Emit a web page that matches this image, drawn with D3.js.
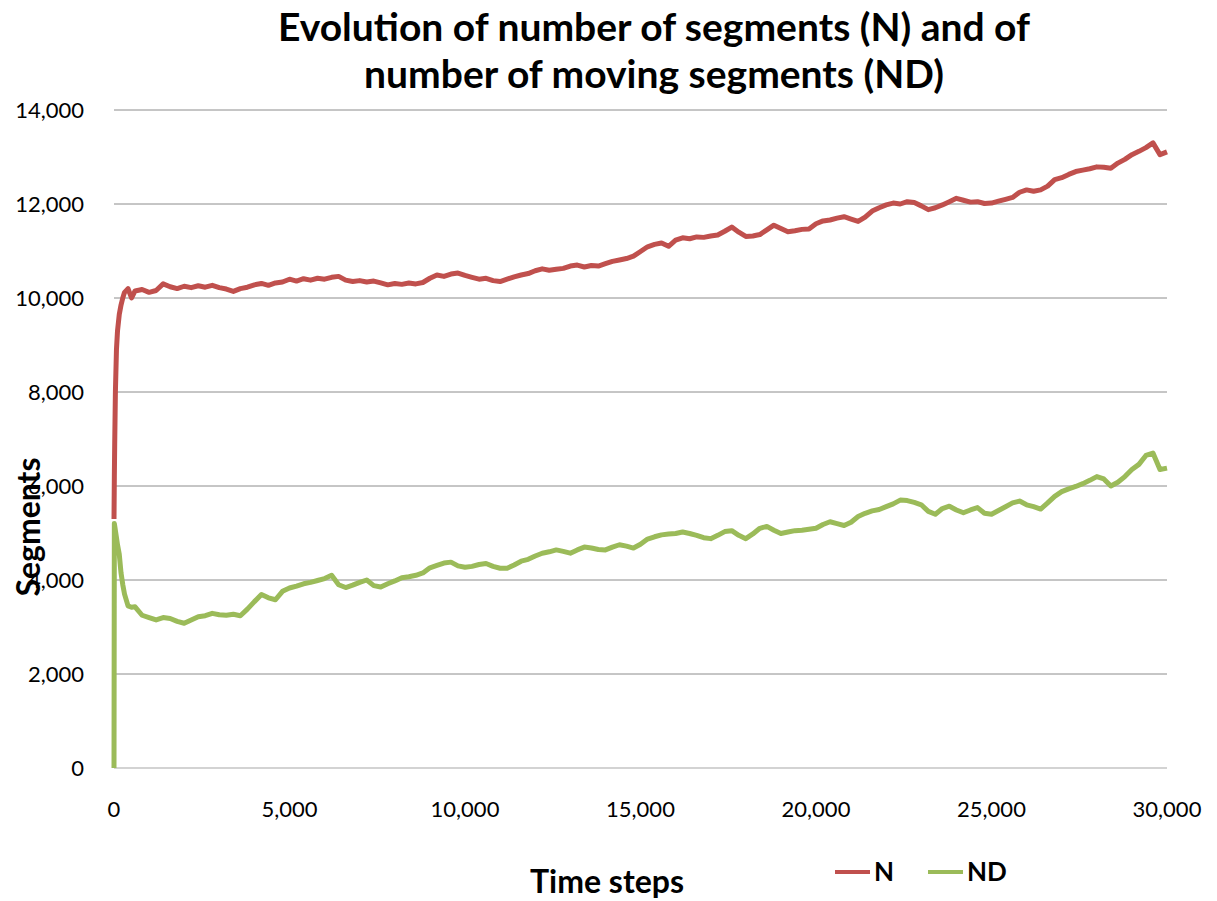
<!DOCTYPE html>
<meta charset="utf-8">
<style>
    html, body {
        margin: 0;
        background: white;
    }

    text {
        font-family: Lato, "Open Sans", sans-serif;
        fill: black;
    }

    .grid line {
        stroke: #8c8c8c;
        stroke-width: 1px;
    }

    .tick-label {
        font-size: 22px;
    }

    .series {
        fill: none;
        stroke-width: 5px;
        stroke-linejoin: round;
    }
</style>
<div id="chart"></div>
<script src="https://d3js.org/d3.v7.min.js"></script>
<script>
    // time steps (x values)
    var timeSteps = [0, 10, 20, 40, 70, 100, 150, 200, 250, 300, 400, 500,
        600, 800, 1000, 1200, 1400, 1600, 1800, 2000, 2200, 2400, 2600, 2800,
        3000, 3200, 3400, 3600, 3800, 4000, 4200, 4400, 4600, 4800,
        5000, 5200, 5400, 5600, 5800, 6000, 6200, 6400, 6600, 6800,
        7000, 7200, 7400, 7600, 7800, 8000, 8200, 8400, 8600, 8800,
        9000, 9200, 9400, 9600, 9800, 10000, 10200, 10400, 10600, 10800,
        11000, 11200, 11400, 11600, 11800, 12000, 12200, 12400, 12600, 12800,
        13000, 13200, 13400, 13600, 13800, 14000, 14200, 14400, 14600, 14800,
        15000, 15200, 15400, 15600, 15800, 16000, 16200, 16400, 16600, 16800,
        17000, 17200, 17400, 17600, 17800, 18000, 18200, 18400, 18600, 18800,
        19000, 19200, 19400, 19600, 19800, 20000, 20200, 20400, 20600, 20800,
        21000, 21200, 21400, 21600, 21800, 22000, 22200, 22400, 22600, 22800,
        23000, 23200, 23400, 23600, 23800, 24000, 24200, 24400, 24600, 24800,
        25000, 25200, 25400, 25600, 25800, 26000, 26200, 26400, 26600, 26800,
        27000, 27200, 27400, 27600, 27800, 28000, 28200, 28400, 28600, 28800,
        29000, 29200, 29400, 29600, 29800, 30000];

    // number of segments (N)
    var nValues = [5300, 6200, 6900, 8000, 8900, 9300, 9650, 9850, 10000, 10120, 10200, 10000,
        10150, 10180, 10120, 10160, 10300, 10240, 10200, 10250, 10220, 10260, 10230, 10270,
        10220, 10190, 10140, 10200, 10230, 10280, 10310, 10270, 10320, 10340,
        10400, 10360, 10410, 10380, 10420, 10400, 10440, 10460, 10380, 10350,
        10370, 10340, 10360, 10320, 10280, 10310, 10290, 10320, 10300, 10330,
        10420, 10490, 10460, 10510, 10530, 10480, 10440, 10400, 10420, 10370,
        10350, 10400, 10450, 10490, 10520, 10580, 10620, 10590, 10610, 10630,
        10680, 10700, 10660, 10690, 10680, 10730, 10780, 10810, 10840, 10890,
        10990, 11090, 11140, 11170, 11100, 11230, 11280, 11260, 11300, 11290,
        11320, 11340, 11420, 11510, 11400, 11310, 11320, 11350, 11450, 11550,
        11480, 11410, 11430, 11460, 11470, 11580, 11640, 11660, 11700, 11730,
        11680, 11630, 11720, 11850, 11920, 11980, 12020, 12000, 12050, 12030,
        11960, 11880, 11920, 11980, 12050, 12120, 12080, 12040, 12050, 12010,
        12020, 12060, 12100, 12140, 12250, 12300, 12270, 12300, 12380, 12520,
        12560, 12630, 12690, 12720, 12750, 12790, 12780, 12760, 12870, 12950,
        13050, 13120, 13200, 13300, 13050, 13110];

    // number of moving segments (ND)
    var ndValues = [0, 5200, 5150, 5050, 4900, 4750, 4550, 4150, 3900, 3700, 3450, 3420,
        3430, 3250, 3200, 3150, 3200, 3180, 3120, 3080, 3150, 3220, 3240, 3290,
        3260, 3250, 3270, 3240, 3380, 3540, 3690, 3620, 3580, 3760,
        3830, 3870, 3920, 3950, 3990, 4030, 4100, 3900, 3840, 3890,
        3950, 4000, 3880, 3850, 3920, 3980, 4050, 4070, 4100, 4150,
        4260, 4310, 4360, 4380, 4300, 4270, 4290, 4330, 4350, 4290,
        4250, 4250, 4320, 4400, 4440, 4510, 4570, 4600, 4640, 4610,
        4570, 4640, 4700, 4680, 4650, 4640, 4700, 4750, 4720, 4680,
        4760, 4870, 4920, 4960, 4980, 4990, 5020, 4990, 4950, 4900,
        4880, 4950, 5030, 5050, 4950, 4880, 4980, 5100, 5140, 5060,
        4990, 5020, 5050, 5060, 5080, 5100, 5180, 5240, 5200, 5160,
        5230, 5350, 5420, 5470, 5500, 5560, 5620, 5700, 5690, 5650,
        5600, 5460, 5400, 5520, 5570, 5490, 5430, 5490, 5540, 5420,
        5400, 5480, 5560, 5640, 5680, 5600, 5560, 5510, 5640, 5780,
        5880, 5940, 5990, 6050, 6120, 6200, 6150, 6000, 6080, 6200,
        6350, 6460, 6650, 6700, 6350, 6380];

    var seriesNames = ["N", "ND"];
    var seriesColors = ["#c0504d", "#9bbb59"];
    var xTicks = [0, 5000, 10000, 15000, 20000, 25000, 30000];
    var yTicks = [0, 2000, 4000, 6000, 8000, 10000, 12000, 14000];
    var titleLines = ["Evolution of number of segments (N) and of", "number of moving segments (ND)"];

    var width = 1217, height = 901;
    var margin = {top: 110, right: 50, bottom: 133, left: 114};

    var svg = d3.select("#chart")
        .append("svg")
        .attr("width", width)
        .attr("height", height);

    var x = d3.scaleLinear()
        .domain([0, 30000])
        .range([margin.left, width - margin.right]);

    var y = d3.scaleLinear()
        .domain([0, 14000])
        .range([height - margin.bottom, margin.top]);

    var fmt = d3.format(",");

    // horizontal gridlines
    svg.append("g")
        .attr("class", "grid")
        .selectAll("line")
        .data(yTicks.filter(function(d) { return d > 0; }))
        .enter().append("line")
        .attr("x1", x(0))
        .attr("x2", x(30000))
        .attr("y1", function(d) { return y(d); })
        .attr("y2", function(d) { return y(d); });

    // bottom axis line
    svg.append("line")
        .attr("x1", x(0))
        .attr("x2", x(30000))
        .attr("y1", y(0))
        .attr("y2", y(0))
        .attr("stroke", "#c4c4c4")
        .attr("stroke-width", 1.5);

    // y tick labels
    svg.append("g")
        .selectAll("text")
        .data(yTicks)
        .enter().append("text")
        .attr("class", "tick-label")
        .attr("x", 84)
        .attr("y", function(d) { return y(d); })
        .attr("dy", "0.35em")
        .attr("text-anchor", "end")
        .text(fmt);

    // x tick labels
    svg.append("g")
        .selectAll("text")
        .data(xTicks)
        .enter().append("text")
        .attr("class", "tick-label")
        .attr("x", function(d) { return x(d); })
        .attr("y", 817)
        .attr("text-anchor", "middle")
        .text(fmt);

    // lines
    var seriesData = [nValues, ndValues];
    var line = d3.line()
        .x(function(d, i) { return x(timeSteps[i]); })
        .y(function(d) { return y(d); });

    svg.append("g")
        .selectAll("path")
        .data(seriesData)
        .enter().append("path")
        .attr("class", "series")
        .attr("stroke", function(d, i) { return seriesColors[i]; })
        .attr("d", line);

    // title
    svg.append("g")
        .selectAll("text")
        .data(titleLines)
        .enter().append("text")
        .attr("x", 654)
        .attr("y", function(d, i) { return 41 + i * 47; })
        .attr("text-anchor", "middle")
        .style("font-size", "39px")
        .style("font-weight", "bold")
        .text(function(d) { return d; });

    // axis titles
    svg.append("text")
        .attr("x", 607)
        .attr("y", 893)
        .attr("text-anchor", "middle")
        .style("font-size", "32px")
        .style("font-weight", "bold")
        .text("Time steps");

    svg.append("text")
        .attr("transform", "translate(40,527) rotate(-90)")
        .attr("text-anchor", "middle")
        .style("font-size", "32px")
        .style("font-weight", "bold")
        .text("Segments");

    // legend
    var legend = svg.append("g")
        .selectAll("g")
        .data(seriesNames)
        .enter().append("g")
        .attr("transform", function(d, i) { return "translate(835," + 872 + ")translate(" + (i * 93) + ",0)"; });

    legend.append("line")
        .attr("x1", 0)
        .attr("x2", 35)
        .attr("stroke", function(d, i) { return seriesColors[i]; })
        .attr("stroke-width", 4);

    legend.append("text")
        .attr("x", 39)
        .attr("dy", "0.36em")
        .style("font-size", "26px")
        .style("font-weight", "bold")
        .text(function(d) { return d; });
</script>
